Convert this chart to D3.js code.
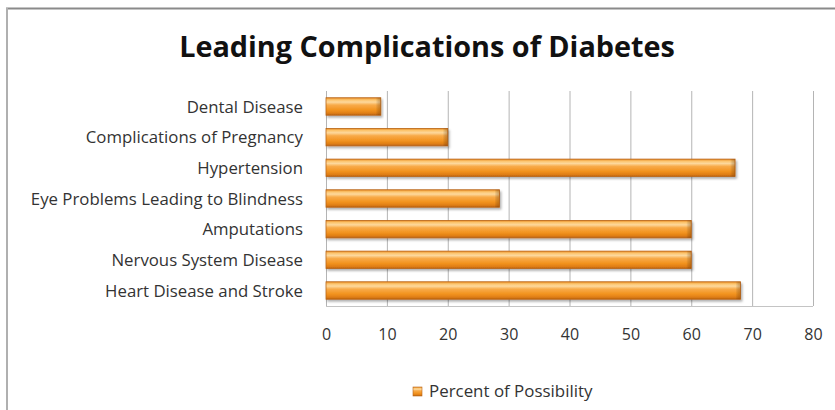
<!DOCTYPE html>
<html><head><meta charset="utf-8">
<script src="https://cdn.jsdelivr.net/npm/d3@7"></script>
<style>
html,body{margin:0;padding:0;background:#fff;}
svg{display:block;}
text{font-family:"Open Sans",Lato,sans-serif;}
</style></head>
<body>
<svg id="chart" width="835" height="410"></svg>
<script>
const title = "Leading Complications of Diabetes";
const categories = ["Dental Disease","Complications of Pregnancy","Hypertension","Eye Problems Leading to Blindness","Amputations","Nervous System Disease","Heart Disease and Stroke"];
const values = [9, 20, 67.2, 28.5, 60, 60, 68.1];
const ticks = [0,10,20,30,40,50,60,70,80];
const seriesName = "Percent of Possibility";

const svg = d3.select("#chart");
const W = 835, H = 410;
const m = {left:326, right:22, top:91, bottom:104};

// frame
svg.append("line").attr("x1",6).attr("x2",W).attr("y1",8.5).attr("y2",8.5).attr("stroke","#8a8a8a").attr("stroke-width",2);
svg.append("line").attr("x1",7).attr("x2",7).attr("y1",8).attr("y2",H).attr("stroke","#b0b0b0").attr("stroke-width",2);

const defs = svg.append("defs");
const g1 = defs.append("linearGradient").attr("id","barGrad").attr("x1",0).attr("y1",0).attr("x2",0).attr("y2",1);
[[0,"#e88a22"],[0.12,"#fcc56e"],[0.25,"#fdd89c"],[0.42,"#f8aa48"],[0.7,"#f2931f"],[0.88,"#e07e14"],[1,"#b9620f"]]
  .forEach(([o,c])=>g1.append("stop").attr("offset",o).attr("stop-color",c));
const g2 = defs.append("linearGradient").attr("id","endGrad").attr("x1",0).attr("y1",0).attr("x2",1).attr("y2",0);
g2.append("stop").attr("offset",0).attr("stop-color","#000").attr("stop-opacity",0);
g2.append("stop").attr("offset",1).attr("stop-color","#7a3a00").attr("stop-opacity",0.35);
const f = defs.append("filter").attr("id","shadow").attr("x","-5%").attr("y","-30%").attr("width","110%").attr("height","180%");
f.append("feDropShadow").attr("dx",1.5).attr("dy",2).attr("stdDeviation",1.2).attr("flood-color","#000").attr("flood-opacity",0.3);

const x = d3.scaleLinear().domain([0,80]).range([m.left, W - m.right]);
const y = d3.scaleBand().domain(categories).range([m.top, H - m.bottom]).paddingInner(0.43).paddingOuter(0.22);

// gridlines
svg.append("g").selectAll("line").data(ticks.slice(1)).join("line")
  .attr("x1",d=>x(d)+0.5).attr("x2",d=>x(d)+0.5).attr("y1",m.top).attr("y2",H-m.bottom)
  .attr("stroke","#b4b4b4").attr("stroke-width",1);
// axis lines
svg.append("line").attr("x1",x(0)+0.5).attr("x2",x(0)+0.5).attr("y1",m.top).attr("y2",H-m.bottom).attr("stroke","#b4b4b4");
svg.append("line").attr("x1",x(0)).attr("x2",x(80)).attr("y1",H-m.bottom+0.5).attr("y2",H-m.bottom+0.5).attr("stroke","#c4c4c4");

// bars
const bars = svg.append("g");
bars.selectAll("rect.bar").data(categories).join("rect").attr("class","bar")
  .attr("x",x(0)).attr("y",(d)=>y(d)).attr("width",(d,i)=>x(values[i])-x(0)).attr("height",y.bandwidth())
  .attr("fill","url(#barGrad)").attr("stroke","#b8651a").attr("stroke-width",0.8).attr("filter","url(#shadow)");
bars.selectAll("rect.end").data(categories).join("rect").attr("class","end")
  .attr("x",(d,i)=>x(values[i])-5).attr("y",d=>y(d)).attr("width",5).attr("height",y.bandwidth())
  .attr("fill","url(#endGrad)");

// category labels
svg.append("g").selectAll("text").data(categories).join("text")
  .attr("x",x(0)-23).attr("y",d=>y(d)+y.bandwidth()/2).attr("dy","0.36em")
  .attr("text-anchor","end").attr("font-size",16.8).attr("fill","#333").text(d=>d);

// x tick labels
const xAxis = d3.axisBottom(x).tickValues(ticks).tickSize(0).tickPadding(0);
const ax = svg.append("g").attr("transform",`translate(0,${H-m.bottom+39})`).call(xAxis);
ax.select(".domain").remove();
ax.selectAll("text").attr("font-size",16).attr("fill","#333").attr("font-family","'Open Sans',Lato,sans-serif").attr("dy","-0.3em");

// title
svg.append("text").attr("x",427).attr("y",57).attr("text-anchor","middle")
  .attr("font-size",28.8).attr("font-weight","bold").attr("fill","#111").text(title);

// legend
svg.append("rect").attr("x",413).attr("y",387).attr("width",9).attr("height",9)
  .attr("fill","url(#barGrad)").attr("stroke","#b8651a").attr("stroke-width",0.6);
svg.append("text").attr("x",429).attr("y",397).attr("font-size",16.9).attr("fill","#333").text(seriesName);
</script>
</body></html>
